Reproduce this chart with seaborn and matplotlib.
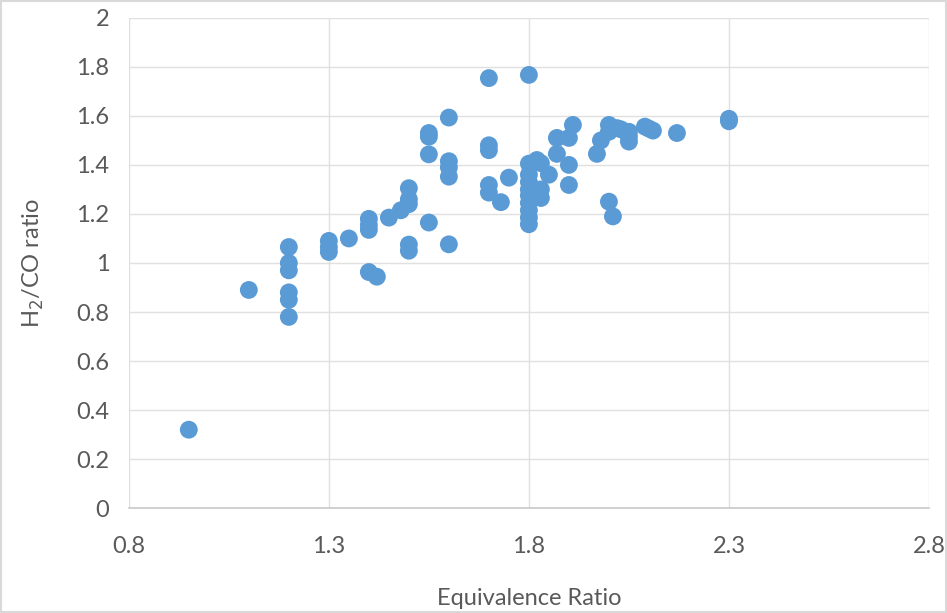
import matplotlib
matplotlib.use("Agg")
import matplotlib.pyplot as plt
import seaborn as sns
import pandas as pd

# values
phi = [0.95, 1.10,
       1.20, 1.20, 1.20, 1.20, 1.20, 1.20,
       1.30, 1.30, 1.30, 1.35,
       1.40, 1.40, 1.40, 1.40, 1.42, 1.45, 1.48,
       1.50, 1.50, 1.50, 1.50, 1.50,
       1.55, 1.55, 1.55, 1.55,
       1.60, 1.60, 1.60, 1.60, 1.60,
       1.70, 1.70, 1.70, 1.70, 1.70, 1.73, 1.75,
       1.80, 1.80, 1.80, 1.80, 1.80, 1.80, 1.80, 1.80, 1.80, 1.80,
       1.82, 1.83, 1.83, 1.83, 1.85, 1.87, 1.87,
       1.90, 1.90, 1.90, 1.91, 1.97, 1.98,
       2.00, 2.00, 2.00, 2.01, 2.02, 2.03, 2.05, 2.05, 2.05,
       2.09, 2.10, 2.11, 2.17, 2.30, 2.30]
h2_co = [0.32, 0.89,
         1.065, 1.00, 0.97, 0.88, 0.85, 0.78,
         1.09, 1.065, 1.045, 1.10,
         1.18, 1.155, 1.135, 0.963, 0.944, 1.185, 1.215,
         1.305, 1.26, 1.24, 1.075, 1.05,
         1.53, 1.515, 1.443, 1.165,
         1.593, 1.415, 1.39, 1.352, 1.076,
         1.754, 1.48, 1.46, 1.318, 1.287, 1.248, 1.348,
         1.767, 1.405, 1.36, 1.33, 1.30, 1.275, 1.245, 1.215, 1.185, 1.158,
         1.42, 1.407, 1.30, 1.265, 1.36, 1.51, 1.445,
         1.51, 1.40, 1.318, 1.563, 1.445, 1.50,
         1.563, 1.535, 1.25, 1.19, 1.55, 1.545, 1.515, 1.495, 1.535,
         1.556, 1.548, 1.54, 1.53, 1.588, 1.578]

df = pd.DataFrame({"Equivalence Ratio": phi, "H2/CO ratio": h2_co})

sns.set_theme(style="white")
plt.rcParams["font.family"] = ["Lato", "DejaVu Sans"]

fig = plt.figure(figsize=(9.47, 6.13), dpi=100)
ax = fig.add_axes([0.136, 0.171, 0.845, 0.8])

sns.scatterplot(data=df, x="Equivalence Ratio", y="H2/CO ratio", ax=ax,
                color="#5B9BD5", s=165, edgecolor="none", zorder=3)

ax.set_xlim(0.8, 2.8)
ax.set_ylim(0, 2)
ax.set_xticks([0.8, 1.3, 1.8, 2.3, 2.8])
ax.set_xticklabels(["0.8", "1.3", "1.8", "2.3", "2.8"])
ax.set_yticks([0, 0.2, 0.4, 0.6, 0.8, 1.0, 1.2, 1.4, 1.6, 1.8, 2.0])
ax.set_yticklabels(["0", "0.2", "0.4", "0.6", "0.8", "1", "1.2", "1.4", "1.6", "1.8", "2"])
ax.grid(True, color="#E0E0E0", linewidth=1.0, zorder=0)
for side in ["top", "right", "left"]:
    ax.spines[side].set_visible(False)
ax.spines["bottom"].set_color("#C8C8C8")
ax.spines["bottom"].set_linewidth(1.2)
ax.tick_params(axis="both", length=0, labelsize=17, labelcolor="#595959")
ax.tick_params(axis="x", pad=20)
ax.tick_params(axis="y", pad=14)

ax.set_xlabel("Equivalence Ratio", fontsize=17, color="#595959", labelpad=22)
ax.set_ylabel("H$_2$/CO ratio", fontsize=17, color="#595959", labelpad=22)

# thin frame like the chart area border
fig.patches.append(plt.Rectangle((0.001, 0.001), 0.998, 0.998, transform=fig.transFigure,
                                 fill=False, edgecolor="#D9D9D9", linewidth=1.5))

fig.savefig("out.png", dpi=100)
